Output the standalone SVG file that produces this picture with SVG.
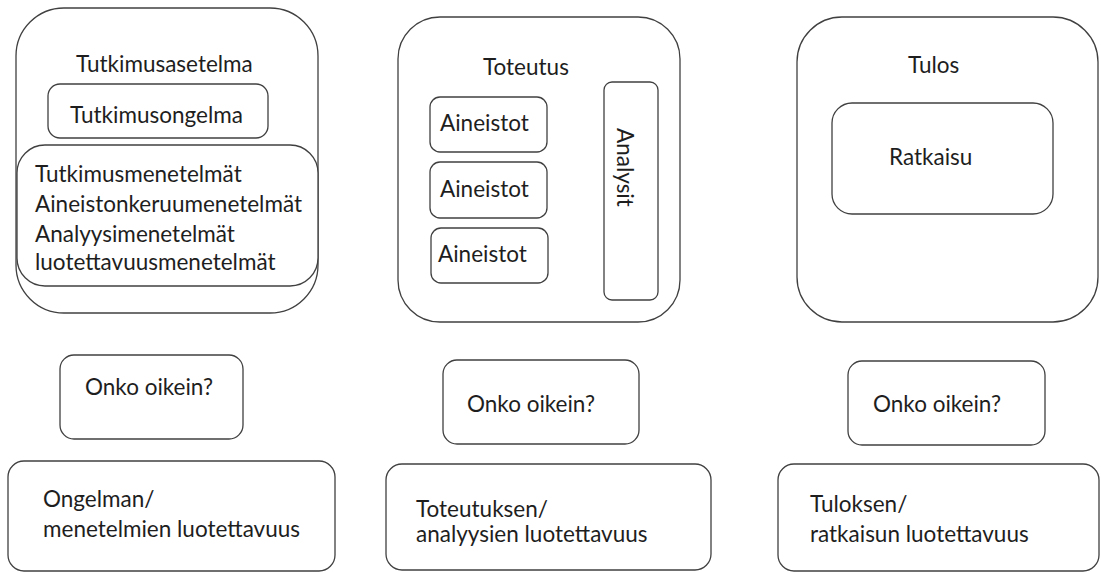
<svg xmlns="http://www.w3.org/2000/svg" width="1101" height="572" viewBox="0 0 1101 572">
<style>
rect{fill:#fff;stroke:#404040;stroke-width:1.3}
text{font-family:Lato,"Open Sans","Liberation Sans",sans-serif;font-size:22.5px;fill:#1e1e1e}
</style>
<rect x="0" y="0" width="1101" height="572" style="fill:#fff;stroke:none"/>
<g id="tutkimusasetelma">
<rect x="16" y="8" width="302" height="305" rx="48"/>
<text x="76" y="72">Tutkimusasetelma</text>
</g>
<g id="tutkimusongelma">
<rect x="48" y="84" width="220" height="54" rx="12"/>
<text x="70" y="123">Tutkimusongelma</text>
</g>
<g id="menetelmat">
<rect x="17" y="145" width="301" height="141" rx="28"/>
<text x="35" y="182">Tutkimusmenetelmät</text>
<text x="35" y="212">Aineistonkeruumenetelmät</text>
<text x="35" y="242">Analyysimenetelmät</text>
<text x="35" y="270">luotettavuusmenetelmät</text>
</g>
<g id="toteutus">
<rect x="398" y="17" width="282" height="305" rx="42"/>
<text x="483" y="75">Toteutus</text>
</g>
<g id="aineistot1">
<rect x="430" y="97" width="117" height="55" rx="10"/>
<text x="440" y="131">Aineistot</text>
</g>
<g id="aineistot2">
<rect x="430" y="162" width="117" height="56" rx="10"/>
<text x="440" y="197">Aineistot</text>
</g>
<g id="aineistot3">
<rect x="431" y="228" width="117" height="55" rx="10"/>
<text x="438" y="262">Aineistot</text>
</g>
<g id="analysit">
<rect x="604" y="82" width="54" height="218" rx="8"/>
<text transform="translate(617,128) rotate(90)">Analysit</text>
</g>
<g id="tulos">
<rect x="797" y="17" width="301" height="305" rx="45"/>
<text x="908" y="73">Tulos</text>
</g>
<g id="ratkaisu">
<rect x="832" y="103" width="221" height="111" rx="20"/>
<text x="889" y="165">Ratkaisu</text>
</g>
<g id="onko1">
<rect x="60" y="355" width="183" height="84" rx="14"/>
<text x="85" y="395">Onko oikein?</text>
</g>
<g id="onko2">
<rect x="443" y="360" width="196" height="84" rx="14"/>
<text x="467" y="412">Onko oikein?</text>
</g>
<g id="onko3">
<rect x="848" y="361" width="197" height="84" rx="14"/>
<text x="873" y="412">Onko oikein?</text>
</g>
<g id="luotettavuus1">
<rect x="8" y="461" width="327" height="110" rx="16"/>
<text x="43" y="507">Ongelman/</text>
<text x="43" y="537">menetelmien luotettavuus</text>
</g>
<g id="luotettavuus2">
<rect x="386" y="464" width="325" height="106" rx="16"/>
<text x="416" y="517">Toteutuksen/</text>
<text x="416" y="542">analyysien luotettavuus</text>
</g>
<g id="luotettavuus3">
<rect x="778" y="464" width="321" height="107" rx="16"/>
<text x="810" y="512">Tuloksen/</text>
<text x="810" y="542">ratkaisun luotettavuus</text>
</g>
<g id="connectors"/>
</svg>
